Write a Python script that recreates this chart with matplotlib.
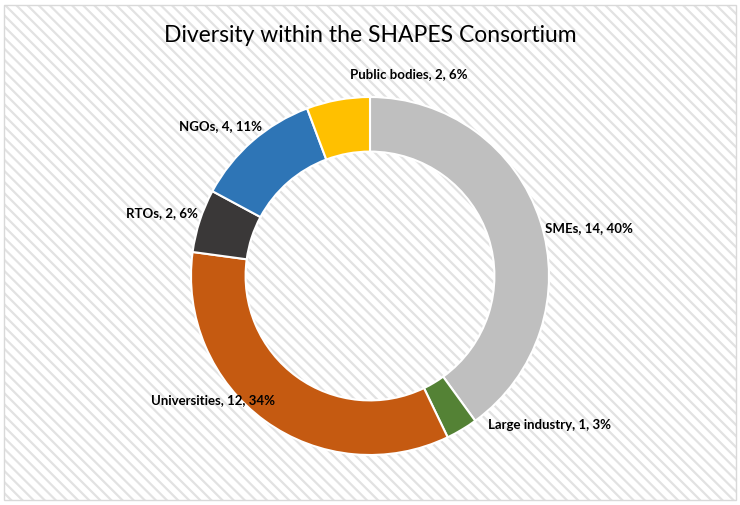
import matplotlib
matplotlib.use("Agg")
import matplotlib.pyplot as plt
from matplotlib.patches import Rectangle

categories = ["SMEs", "Large industry", "Universities", "RTOs", "NGOs", "Public bodies"]
values = [14, 1, 12, 2, 4, 2]
percents = ["40%", "3%", "34%", "6%", "11%", "6%"]
colors = ["#BFBFBF", "#548235", "#C55A11", "#3A3838", "#2E75B6", "#FFC000"]

W, H = 740, 505
fig = plt.figure(figsize=(W / 100, H / 100), dpi=100)
fig.patch.set_facecolor("white")

# background with diagonal hatch
plt.rcParams["hatch.linewidth"] = 1.6
bg = fig.add_axes([4 / W, 5 / H, 732 / W, 495 / H])
bg.set_axis_off()
bg.add_patch(Rectangle((0, 0), 1, 1, transform=bg.transAxes, facecolor="white",
                       edgecolor="#E2E2E2", hatch="\\\\\\", linewidth=0))
bg.add_patch(Rectangle((0, 0), 1, 1, transform=bg.transAxes, facecolor="none",
                       edgecolor="#D9D9D9", linewidth=1.0, clip_on=False))

cx, cy, R = 370, 276, 179
ax = fig.add_axes([(cx - R) / W, (H - cy - R) / H, 2 * R / W, 2 * R / H])
ax.pie(values, colors=colors, startangle=90, counterclock=False, radius=1,
       wedgeprops=dict(width=0.305, edgecolor="white", linewidth=1.5))
ax.set_xlim(-1, 1)
ax.set_ylim(-1, 1)
ax.set_axis_off()

font = ["Lato", "DejaVu Sans"]

def px(x, y):
    return (x - cx) / R, (cy - y) / R

label_pos = [(545, 228, "left"), (488, 425, "left"), (275, 400, "right"),
             (198, 213, "right"), (262, 126, "right"), (350, 74, "left")]
for cat, v, p, (x, y, ha) in zip(categories, values, percents, label_pos):
    tx, ty = px(x, y)
    ax.text(tx, ty, f"{cat}, {v}, {p}", ha=ha, va="center", fontsize=9.5,
            fontweight="bold", family=font, color="#000000", clip_on=False)

fig.text(0.5, 1 - 35 / H, "Diversity within the SHAPES Consortium", ha="center",
         va="center", fontsize=16.5, family=font, color="#000000")

fig.savefig("out.png", dpi=100)
